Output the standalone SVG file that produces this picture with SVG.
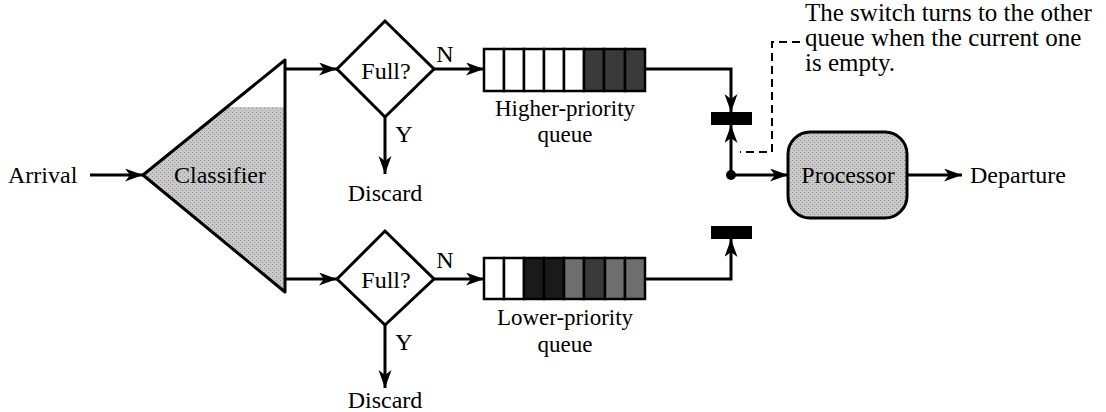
<svg xmlns="http://www.w3.org/2000/svg" width="1106" height="412" viewBox="0 0 1106 412">
<defs>
<marker id="ah" markerUnits="userSpaceOnUse" markerWidth="20" markerHeight="14" refX="18" refY="6.5" orient="auto">
<path d="M0,0 L18,6.5 L0,13 L5,6.5 z" fill="#000"/>
</marker>
<pattern id="stip" width="4" height="4" patternUnits="userSpaceOnUse">
<rect width="4" height="4" fill="#c9c9c9"/>
<rect x="0" y="0" width="1" height="1" fill="#8a8a8a"/>
<rect x="2" y="2" width="1" height="1" fill="#9a9a9a"/>
</pattern>
</defs>
<style>
text{font-family:"Liberation Serif","Times New Roman",serif;font-size:24px;fill:#000}
.c{text-anchor:middle}
.nt{font-size:25px}
.ql{font-size:23px}
.ln{fill:none;stroke:#000;stroke-width:3}
.arr{fill:none;stroke:#000;stroke-width:3;marker-end:url(#ah)}
.box{stroke:#000;stroke-width:2.5}
.w{fill:#fff}
.dk{fill:#3a3a3a}
.bk{fill:#1a1a1a}
.md{fill:#6e6e6e}
</style>
<rect width="1106" height="412" fill="#fff"/>

<g id="arrival"><text x="8" y="183">Arrival</text></g>

<g id="classifier">
<polygon points="143,175 227,107 285,107 285,292" fill="url(#stip)"/>
<polygon points="143,175 285,60 285,292" fill="none" stroke="#000" stroke-width="3" stroke-linejoin="round"/>
<text x="220" y="183" class="c">Classifier</text>
</g>

<g id="full-high">
<polygon points="337,69 385,21 434,69 385,117" fill="#fff" stroke="#000" stroke-width="3"/>
<text x="386" y="79" class="c">Full?</text>
</g>
<g id="full-low">
<polygon points="337,279 385,231 434,279 385,325" fill="#fff" stroke="#000" stroke-width="3"/>
<text x="386" y="288" class="c">Full?</text>
</g>

<g id="discard-high"><text x="385" y="201" class="c">Discard</text></g>
<g id="discard-low"><text x="385" y="408" class="c">Discard</text></g>

<g id="queue-high">
<rect x="484" y="49" width="20" height="42" class="box w"/>
<rect x="504" y="49" width="20" height="42" class="box w"/>
<rect x="524" y="49" width="20" height="42" class="box w"/>
<rect x="544" y="49" width="20" height="42" class="box w"/>
<rect x="564" y="49" width="20" height="42" class="box w"/>
<rect x="584" y="49" width="20" height="42" class="box dk"/>
<rect x="604" y="49" width="21" height="42" class="box dk"/>
<rect x="625" y="49" width="20" height="42" class="box dk"/>
<text x="565" y="116" class="c ql">Higher-priority</text>
<text x="565" y="142" class="c ql">queue</text>
</g>

<g id="queue-low">
<rect x="484" y="258" width="20" height="41" class="box w"/>
<rect x="504" y="258" width="20" height="41" class="box w"/>
<rect x="524" y="258" width="20" height="41" class="box bk"/>
<rect x="544" y="258" width="20" height="41" class="box bk"/>
<rect x="564" y="258" width="20" height="41" class="box md"/>
<rect x="584" y="258" width="21" height="41" class="box dk"/>
<rect x="605" y="258" width="20" height="41" class="box md"/>
<rect x="625" y="258" width="20" height="41" class="box md"/>
<text x="565" y="325" class="c ql">Lower-priority</text>
<text x="565" y="352" class="c ql">queue</text>
</g>

<g id="switch-high"><rect x="711" y="112" width="41" height="13" fill="#000"/></g>
<g id="switch-low"><rect x="711" y="226" width="41" height="13" fill="#000"/></g>

<g id="processor">
<rect x="788" y="132" width="119" height="86" rx="22" ry="22" fill="url(#stip)" stroke="#000" stroke-width="3"/>
<text x="848" y="183" class="c">Processor</text>
</g>

<g id="departure"><text x="970" y="183">Departure</text></g>

<g id="note">
<text x="805" y="21" class="nt">The switch turns to the other</text>
<text x="805" y="46" class="nt">queue when the current one</text>
<text x="805" y="71" class="nt">is empty.</text>
</g>

<g id="connectors">
<line x1="90" y1="175" x2="143" y2="175" class="arr"/>
<line x1="285" y1="69" x2="337" y2="69" class="arr"/>
<line x1="285" y1="279" x2="337" y2="279" class="arr"/>
<line x1="434" y1="69" x2="484" y2="69" class="arr"/>
<line x1="434" y1="279" x2="484" y2="279" class="arr"/>
<line x1="385" y1="117" x2="385" y2="174" class="arr"/>
<line x1="385" y1="325" x2="385" y2="388" class="arr"/>
<polyline points="645,69 731,69 731,112" class="arr"/>
<polyline points="645,279 731,279 731,239" class="arr"/>
<line x1="731" y1="175" x2="731" y2="125" class="arr"/>
<line x1="731" y1="175" x2="788" y2="175" class="arr"/>
<line x1="907" y1="175" x2="962" y2="175" class="arr"/>
<circle cx="731" cy="175" r="5" fill="#000"/>
<polyline points="800,42 772,42 772,152 740,152" fill="none" stroke="#000" stroke-width="2" stroke-dasharray="8,5"/>
<text x="445" y="62" class="c">N</text>
<text x="445" y="268" class="c">N</text>
<text x="404" y="142" class="c">Y</text>
<text x="404" y="350" class="c">Y</text>
</g>
</svg>
